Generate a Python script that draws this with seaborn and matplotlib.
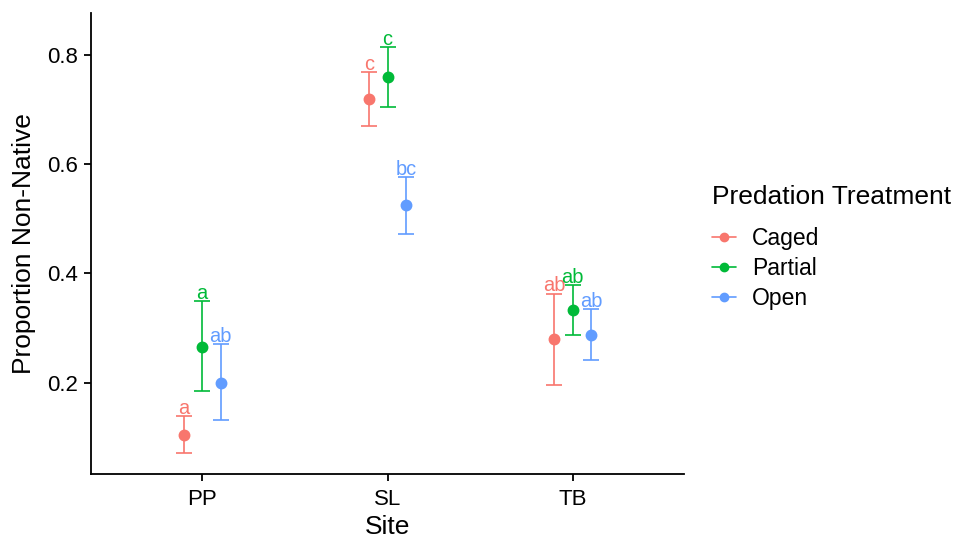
import numpy as np
import pandas as pd
import matplotlib
matplotlib.use("Agg")
import matplotlib.pyplot as plt
from matplotlib.lines import Line2D
import seaborn as sns

# Site-level summaries of non-native proportion, per predation treatment
sites = ["PP", "SL", "TB"]
treatments = ["Caged", "Partial", "Open"]

caged_mean = [0.104, 0.719, 0.279]
caged_low = [0.071, 0.670, 0.195]
caged_high = [0.139, 0.768, 0.363]

partial_mean = [0.266, 0.759, 0.333]
partial_low = [0.184, 0.704, 0.288]
partial_high = [0.349, 0.814, 0.378]

open_mean = [0.200, 0.524, 0.288]
open_low = [0.131, 0.472, 0.241]
open_high = [0.271, 0.576, 0.334]

# Compact-letter display from post-hoc comparisons
caged_letters = ["a", "c", "ab"]
partial_letters = ["a", "c", "ab"]
open_letters = ["ab", "bc", "ab"]

palette = ["#F8766D", "#00BA38", "#619CFF"]

groups = {
    "Caged": (caged_mean, caged_low, caged_high, caged_letters),
    "Partial": (partial_mean, partial_low, partial_high, partial_letters),
    "Open": (open_mean, open_low, open_high, open_letters),
}

rows = []
for trt, (m, lo, hi, let) in groups.items():
    for s, mv, lv, hv, lt in zip(sites, m, lo, hi, let):
        rows.append(dict(Site=s, Treatment=trt, Proportion=mv, low=lv, high=hv, letter=lt))
df = pd.DataFrame(rows)

sns.set_theme(style="ticks")
plt.rcParams["font.family"] = ["Liberation Sans", "DejaVu Sans"]
plt.rcParams["text.color"] = "black"

fig = plt.figure(figsize=(9.59, 5.38), dpi=100)
ax = fig.add_axes([91 / 959, 1 - 474 / 538, (684 - 91) / 959, (474 - 13) / 538])

dodge = 0.2
sns.pointplot(
    data=df, x="Site", y="Proportion", hue="Treatment",
    order=sites, hue_order=treatments, palette=palette,
    dodge=dodge, linestyle="none", markers="o", markersize=6.5,
    errorbar=None, legend=False, ax=ax, zorder=3,
)

step = dodge / (len(treatments) - 1)
for j, (trt, col) in enumerate(zip(treatments, palette)):
    sub = df[df.Treatment == trt].set_index("Site").loc[sites]
    xs = np.arange(len(sites)) - dodge / 2 + step * j
    ax.errorbar(
        xs, sub.Proportion,
        yerr=[sub.Proportion - sub.low, sub.high - sub.Proportion],
        fmt="none", ecolor=col, elinewidth=1.2, capsize=5.8, capthick=1.2, zorder=2,
    )
    for x, hv, lt in zip(xs, sub.high, sub.letter):
        ax.annotate(lt, (x, hv), xytext=(0, 1.5), textcoords="offset points",
                    ha="center", va="baseline", color=col, fontsize=14.4)

ax.set_xlim(-0.6, 2.6)
ax.set_ylim(0.033, 0.876)
ax.set_yticks([0.2, 0.4, 0.6, 0.8])
ax.set_yticklabels(["0.2", "0.4", "0.6", "0.8"])

sns.despine(ax=ax)
for sp in ["left", "bottom"]:
    ax.spines[sp].set_color("black")
    ax.spines[sp].set_linewidth(1.3)
ax.tick_params(axis="both", colors="black", labelcolor="black", labelsize=16,
               length=5, width=1.3, direction="out")
ax.tick_params(axis="x", pad=5.5)
ax.tick_params(axis="y", pad=4.5)

ax.set_xlabel("Site", fontsize=19, color="black", labelpad=4)
ax.set_ylabel("Proportion Non-Native", fontsize=19, color="black", labelpad=8)

handles = [
    Line2D([0], [0], color=c, marker="o", markersize=6, linewidth=1.2)
    for c in palette
]
leg = fig.legend(
    handles, treatments, title="Predation Treatment",
    loc="upper left", bbox_to_anchor=(712 / 959, 1 - 185 / 538),
    frameon=False, fontsize=16.5, title_fontsize=19, labelcolor="black",
    handlelength=1.05, handletextpad=0.7, labelspacing=0.3,
    borderpad=0, borderaxespad=0,
)
leg.get_title().set_color("black")
leg._legend_box.align = "left"
leg._legend_box.sep = 13

fig.savefig("out.png", dpi=100)
